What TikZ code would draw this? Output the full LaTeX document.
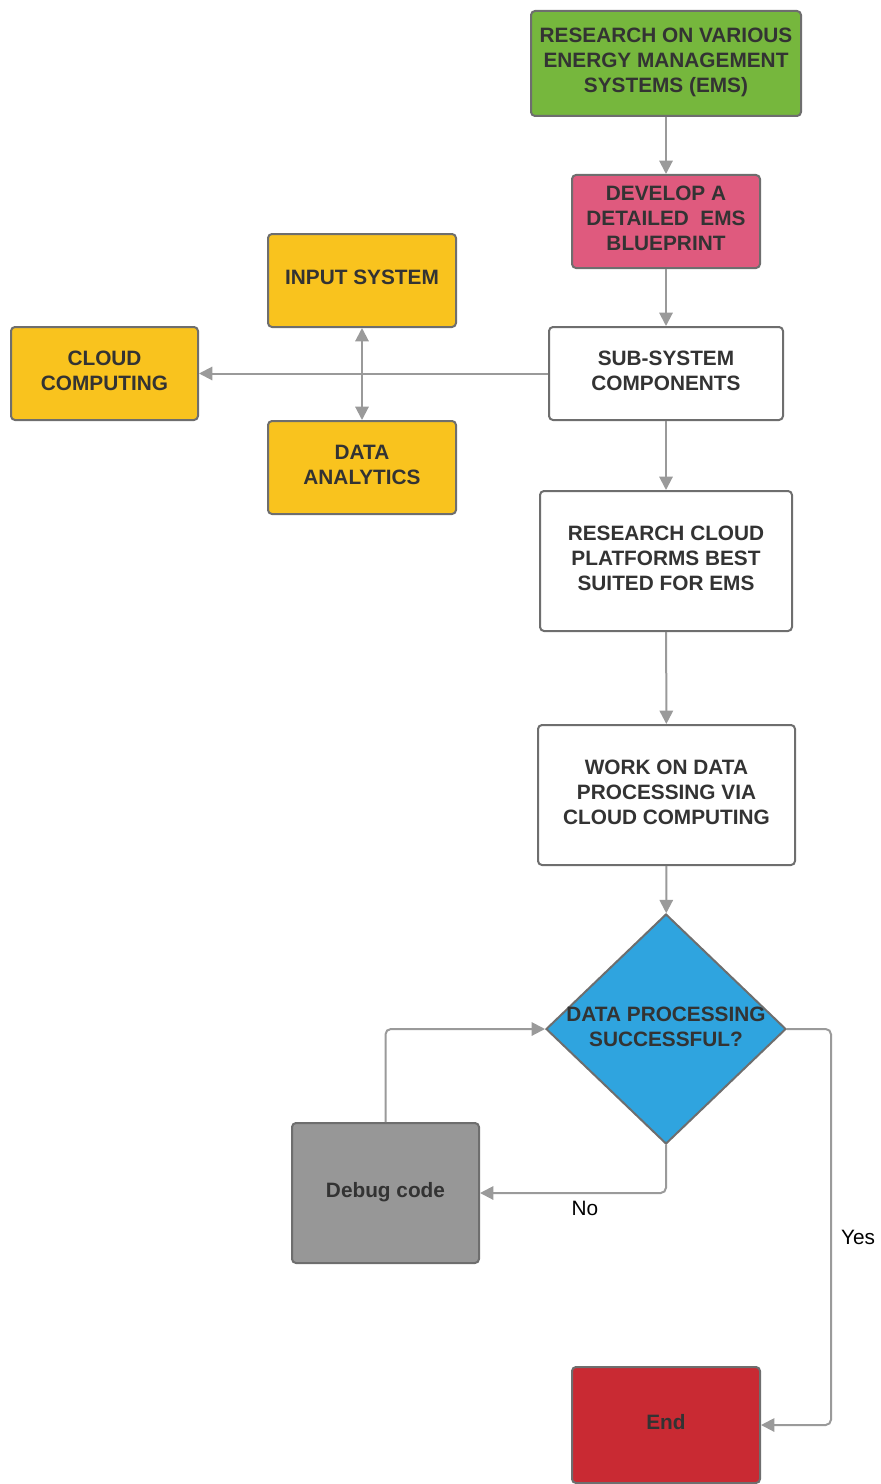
\documentclass[tikz,border=0pt]{standalone}
\usepackage{fontspec}
\setmainfont{Liberation Sans}
\usetikzlibrary{shapes.geometric,arrows.meta}

\definecolor{emsgreen}{HTML}{76B73D}
\definecolor{planpink}{HTML}{DF5A7E}
\definecolor{subyellow}{HTML}{F9C31E}
\definecolor{decblue}{HTML}{2FA4DF}
\definecolor{debuggray}{HTML}{979797}
\definecolor{endred}{HTML}{C92A33}
\definecolor{edgegray}{HTML}{6E6E6E}
\definecolor{linkgray}{HTML}{9A9A9A}
\definecolor{inkgray}{HTML}{333333}

% centred block of lines; the optional extra depth lifts it within its shape
\newcommand\blocktext[2][1.5pt]{%
  \raisebox{0pt}[\height][\dimexpr\depth+#1\relax]{%
    \begin{tabular}{@{}c@{}}#2\end{tabular}}}

\begin{document}
\begin{tikzpicture}[x=0.75pt,y=-0.75pt,
  box/.style 2 args={draw=edgegray, line width=1.5pt, rounded corners=3pt,
    minimum width=#1*0.75pt, minimum height=#2*0.75pt, inner sep=0pt,
    text=inkgray,
    font=\bfseries\fontsize{15.6}{18.75}\selectfont},
  decision/.style={diamond, draw=edgegray, line width=1.5pt, fill=decblue,
    minimum width=240*0.75pt, minimum height=230*0.75pt, inner sep=-20pt,
    text=inkgray,
    font=\bfseries\fontsize{15.6}{18.75}\selectfont},
  link/.style={draw=linkgray, line width=1.5pt,
    -{Triangle[length=10pt,width=10pt]}},
  twolink/.style={draw=linkgray, line width=1.5pt,
    {Triangle[length=10pt,width=10pt]}-{Triangle[length=10pt,width=10pt]}},
  lbl/.style={text=black, font=\fontsize{15.6}{18.75}\selectfont, inner sep=0pt}
]
\useasboundingbox (0,0) rectangle (881,1484);

% main column
\node[box={270}{105}, fill=emsgreen] (ems) at (666,63.5)
  {\blocktext{RESEARCH ON VARIOUS\\ENERGY MANAGEMENT\\SYSTEMS (EMS)}};
\node[box={188}{93}, fill=planpink] (plan) at (666,221.5)
  {\blocktext{DEVELOP A\\DETAILED\ \ EMS\\BLUEPRINT}};
\node[box={234}{93}, fill=white] (sub) at (666,373.5)
  {\blocktext{SUB-SYSTEM\\COMPONENTS}};
\node[box={252}{140}, fill=white] (rcloud) at (666,561)
  {\blocktext{RESEARCH CLOUD\\PLATFORMS BEST\\SUITED FOR EMS}};
\node[box={257}{140}, fill=white] (work) at (666.5,795)
  {\blocktext{WORK ON DATA\\PROCESSING VIA\\CLOUD COMPUTING}};
\node[decision] (dec) at (666,1029)
  {\blocktext[0pt]{DATA PROCESSING\\SUCCESSFUL?}};
\node[box={188}{116}, fill=endred] (end) at (666,1425) {\blocktext{End}};

% sub-system components
\node[box={188}{93}, fill=subyellow] (input) at (362,280.5)
  {\blocktext{INPUT SYSTEM}};
\node[box={187}{93}, fill=subyellow] (cloud) at (104.5,373.5)
  {\blocktext{CLOUD\\COMPUTING}};
\node[box={188}{93}, fill=subyellow] (analytics) at (362,467.5)
  {\blocktext{DATA\\ANALYTICS}};

% debug loop
\node[box={187}{140}, fill=debuggray] (debug) at (385.5,1193)
  {\blocktext[0.75pt]{Debug code}};

% connectors
\draw[link] (ems) -- (plan);
\draw[link] (plan) -- (sub);
\draw[link] (sub) -- (cloud);
\draw[twolink] (input) -- (analytics);
\draw[link] (sub) -- (rcloud);
\draw[link] (rcloud) -- (work);
\draw[link] (work) -- (dec);
\draw[link, rounded corners=4pt] (dec.south) |- (debug.east);
\draw[link, rounded corners=4pt] (debug.north) |- (dec.west);
\coordinate (yesturn) at (831,1029);
\draw[link, rounded corners=4pt] (dec.east) -- (yesturn) |- (end.east);

% branch labels
\node[lbl] (no) at (585,1208) {No};
\node[lbl] (yes) at (858,1237) {Yes};
\end{tikzpicture}
\end{document}
